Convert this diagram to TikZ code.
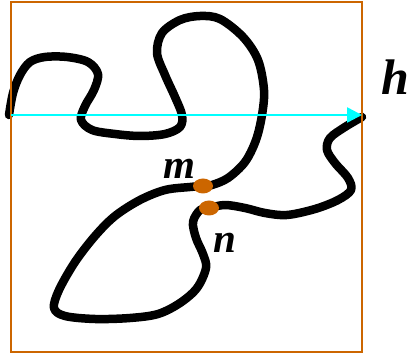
\documentclass[tikz,border=0pt]{standalone}
\usepackage{fontspec}
\setmainfont{Liberation Serif}
\usetikzlibrary{arrows.meta,shapes.geometric}
\definecolor{frameorange}{RGB}{204,102,0}
\definecolor{dotorange}{RGB}{204,102,0}
\definecolor{arrowcyan}{RGB}{0,255,255}
\tikzset{
  curve/.style={line width=8.5pt, black, line cap=round, line join=round},
  framebox/.style={draw=frameorange, line width=2pt},
  harrow/.style={draw=arrowcyan, line width=2.5pt, -{Triangle[length=15pt,width=15pt]}},
  pdot/.style={ellipse, fill=dotorange, minimum width=20pt, minimum height=15pt, inner sep=0pt},
  lbl/.style={inner sep=0pt, font=\bfseries\itshape\fontsize{41}{41}\selectfont},
  biglbl/.style={inner sep=0pt, font=\bfseries\itshape\fontsize{50}{50}\selectfont}
}
\begin{document}
\begin{tikzpicture}[x=1pt,y=-1pt]
\useasboundingbox (0,0) rectangle (410,355);
% the curve
\draw[curve] plot[smooth, tension=0.55] coordinates {
 (9,115) (13,93) (20,75) (30,62) (45,57) (67,57) (88,62) (98,74) (94,90)
 (85,106) (81,120) (92,130) (115,134) (140,136) (165,134) (180,127)
 (182,115) (175,97) (165,75) (157,53) (162,33) (180,20) (200,16) (220,19)
 (243,37) (258,60) (264,90) (262,115) (256,140) (245,162) (228,178)
 (212,185) (203,186) (190,187) (165,190) (140,200) (115,216) (95,236)
 (75,262) (59,290) (54,308) (65,316) (95,319) (130,318) (158,314)
 (180,303) (197,288) (206,268) (203,254) (196,238) (193,222) (200,210)
 (209,208) (225,205) (245,208) (265,213) (287,215) (315,209) (338,200)
 (351,190) (348,178) (335,163) (327,150) (330,138) (345,127) (362,117)
};
% frame
\draw[framebox] (11,2) rectangle (362,352);
% arrow
\coordinate (hstart) at (11,115);
\coordinate (hend) at (362,115);
\draw[harrow] (hstart) -- (hend);
% points
\node[pdot] (mdot) at (203,186) {};
\node[pdot] (ndot) at (209,208) {};
% labels
\node[lbl] (mlbl) at (179,169) {m};
\node[lbl] (nlbl) at (225,243) {n};
\node[biglbl] (hlbl) at (395,77) {h};
\end{tikzpicture}
\end{document}
